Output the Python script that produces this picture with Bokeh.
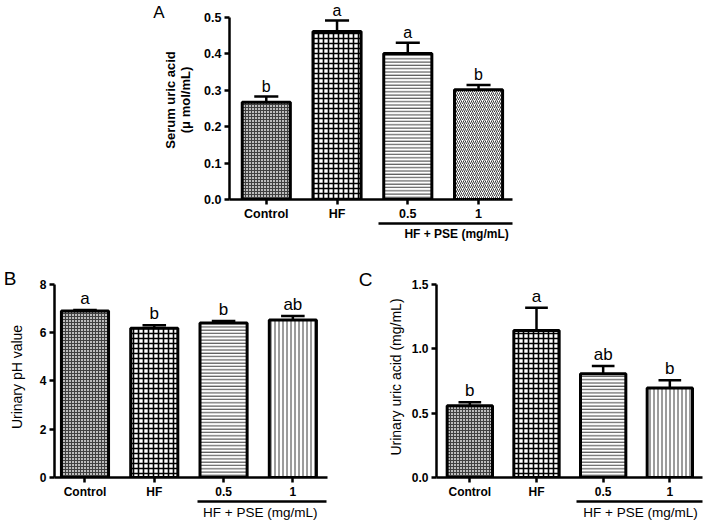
from bokeh.plotting import figure
from bokeh.models import (LinearAxis, FixedTicker, NumeralTickFormatter,
                          ColumnDataSource, Range1d)
from bokeh.layouts import column, row, Spacer
from bokeh.core.properties import value
from bokeh.embed import file_html
from bokeh.resources import INLINE

# ---------------- data ----------------
categories = ["Control", "HF", "0.5", "1"]
group_label = "HF + PSE (mg/mL)"

serum_mean = [0.267, 0.462, 0.401, 0.302]
serum_err = [0.016, 0.030, 0.030, 0.013]
serum_sig = ["b", "a", "a", "b"]
serum_ticks = [0.0, 0.1, 0.2, 0.3, 0.4, 0.5]

ph_mean = [6.90, 6.19, 6.40, 6.53]
ph_err = [0.04, 0.12, 0.09, 0.16]
ph_sig = ["a", "b", "b", "ab"]
ph_ticks = [0, 2, 4, 6, 8]

urine_mean = [0.558, 1.142, 0.807, 0.695]
urine_err = [0.026, 0.178, 0.059, 0.060]
urine_sig = ["b", "a", "ab", "b"]
urine_ticks = [0.0, 0.5, 1.0, 1.5]

FONT = "Liberation Sans"

# bar fill styles: Control, HF, 0.5, 1
fills = ["#bcbcbc", "#ffffff", "#ffffff", "#ffffff"]
hatch_colors = ["#404040", "#000000", "#3a3a3a", "#3a3a3a"]
hatch_scales = [3, 5, 3.3, 4]
hatch_weights = [1, 1.6, 1, 1]


def make_panel(means, errs, sigs, ticks, fmt, ylabel, last_pattern,
               width, height, mb_left, mb_right, mb_top, mb_bottom,
               x_start, x_end, y_end, y_bound, tick_size, ylabel_size,
               ylabel_style, ylabel_standoff, group_style, group_size,
               sig_size, bracket, bracket_x, letter, letter_y,
               letter_standoff, letter_size):
    p = figure(width=width, height=height, output_backend="svg",
               toolbar_location=None, x_range=Range1d(x_start, x_end),
               y_range=Range1d(0, y_end), min_border_left=mb_left,
               min_border_right=mb_right, min_border_top=mb_top,
               min_border_bottom=mb_bottom, x_axis_type=None, y_axis_type=None)
    p.outline_line_color = None
    p.xgrid.visible = False
    p.ygrid.visible = False
    p.background_fill_color = "white"
    p.border_fill_color = "white"

    xs = list(range(len(categories)))
    tops = [m + e for m, e in zip(means, errs)]
    patterns = ["cross", "cross", "horizontal_line", last_pattern]
    src = ColumnDataSource(dict(x=xs, top=means, err_top=tops, sig=sigs,
                                fill=fills, hp=patterns, hc=hatch_colors,
                                hs=hatch_scales, hw=hatch_weights,
                                cap0=[x - 0.17 for x in xs],
                                cap1=[x + 0.17 for x in xs]))
    # error stems + caps
    p.segment(x0="x", y0="top", x1="x", y1="err_top", source=src,
              line_color="black", line_width=2.5)
    p.segment(x0="cap0", y0="err_top", x1="cap1", y1="err_top", source=src,
              line_color="black", line_width=2.5)
    # bars
    p.vbar(x="x", top="top", bottom=0, width=0.68, source=src,
           fill_color="fill", line_color="black", line_width=3,
           hatch_pattern="hp", hatch_color="hc", hatch_scale="hs",
           hatch_weight="hw")
    # significance letters
    p.text(x="x", y="err_top", text="sig", source=src, text_align="center",
           text_baseline="bottom", y_offset=-2, text_font=value(FONT),
           text_font_size=value(sig_size), text_color="black")

    # y axis
    yax = LinearAxis(ticker=FixedTicker(ticks=ticks),
                     formatter=NumeralTickFormatter(format=fmt),
                     bounds=(0, y_bound), axis_label=ylabel)
    # x axis
    xax = LinearAxis(ticker=FixedTicker(ticks=xs),
                     major_label_overrides={i: c for i, c in enumerate(categories)})
    # group bracket axis
    gax = LinearAxis(ticker=FixedTicker(ticks=[bracket_x]),
                     major_label_overrides={bracket_x: group_label},
                     bounds=bracket)
    for ax in (yax, xax, gax):
        ax.axis_line_width = 2.5
        ax.axis_line_color = "black"
        ax.major_tick_line_width = 2.5
        ax.major_tick_out = 5
        ax.major_tick_in = 0
        ax.minor_tick_line_color = None
        ax.major_label_text_font = FONT
        ax.major_label_text_font_style = "bold"
        ax.major_label_text_font_size = tick_size
        ax.major_label_text_color = "black"
        ax.major_label_standoff = 3
    yax.axis_label_text_font = FONT
    yax.axis_label_text_font_style = ylabel_style
    yax.axis_label_text_font_size = ylabel_size
    yax.axis_label_text_line_height = 1.0
    yax.axis_label_standoff = ylabel_standoff
    yax.axis_label_text_color = "black"
    xax.major_label_standoff = 2
    gax.major_tick_line_color = None
    gax.major_tick_out = 0
    gax.major_label_text_font_style = group_style
    gax.major_label_text_font_size = group_size
    gax.major_label_standoff = 3

    # panel letter, drawn as the single label of an outer, line-less axis
    lax = LinearAxis(ticker=FixedTicker(ticks=[letter_y]),
                     major_label_overrides={letter_y: letter})
    lax.axis_line_color = None
    lax.major_tick_line_color = None
    lax.minor_tick_line_color = None
    lax.major_tick_out = 0
    lax.major_tick_in = 0
    lax.major_label_text_font = FONT
    lax.major_label_text_font_size = letter_size
    lax.major_label_text_color = "black"
    lax.major_label_standoff = letter_standoff

    p.add_layout(yax, "left")
    p.add_layout(lax, "left")
    p.add_layout(xax, "below")
    p.add_layout(gax, "below")
    return p


pA = make_panel(serum_mean, serum_err, serum_sig, serum_ticks, "0.0",
                "Serum uric acid\n(\u03bc mol/mL)", "right_diagonal_line",
                width=370, height=245, mb_left=68, mb_right=8, mb_top=0,
                mb_bottom=46, x_start=-0.52, x_end=3.48, y_end=0.547,
                y_bound=0.5, tick_size="12.5px", ylabel_size="13px",
                ylabel_style="bold", ylabel_standoff=8, group_style="bold",
                group_size="12px", sig_size="16px", bracket=(1.58, 3.52),
                bracket_x=2.69, letter="A", letter_y=0.514,
                letter_standoff=-4, letter_size="17px")

pB = make_panel(ph_mean, ph_err, ph_sig, ph_ticks, "0", "Urinary pH value",
                "vertical_line", width=355, height=281, mb_left=47,
                mb_right=28, mb_top=31, mb_bottom=49, x_start=-0.44,
                x_end=3.5, y_end=8.33, y_bound=8, tick_size="12px",
                ylabel_size="14px", ylabel_style="normal", ylabel_standoff=12,
                group_style="normal", group_size="13.5px", sig_size="17px",
                bracket=(1.62, 3.48), bracket_x=2.53, letter="B",
                letter_y=8.25, letter_standoff=-11, letter_size="19px")

pC = make_panel(urine_mean, urine_err, urine_sig, urine_ticks, "0.0",
                "Urinary uric acid (mg/mL)", "vertical_line", width=353,
                height=281, mb_left=78, mb_right=6, mb_top=31, mb_bottom=49,
                x_start=-0.5, x_end=3.49, y_end=1.562, y_bound=1.5,
                tick_size="12px", ylabel_size="14px", ylabel_style="normal",
                ylabel_standoff=5, group_style="normal", group_size="13.5px",
                sig_size="17px", bracket=(1.6, 3.49), bracket_x=2.56,
                letter="C", letter_y=1.539, letter_standoff=12,
                letter_size="19px")

layout = column(row(Spacer(width=150, height=245), pA), row(pB, pC))
open("out.html", "w").write(file_html(layout, INLINE))
